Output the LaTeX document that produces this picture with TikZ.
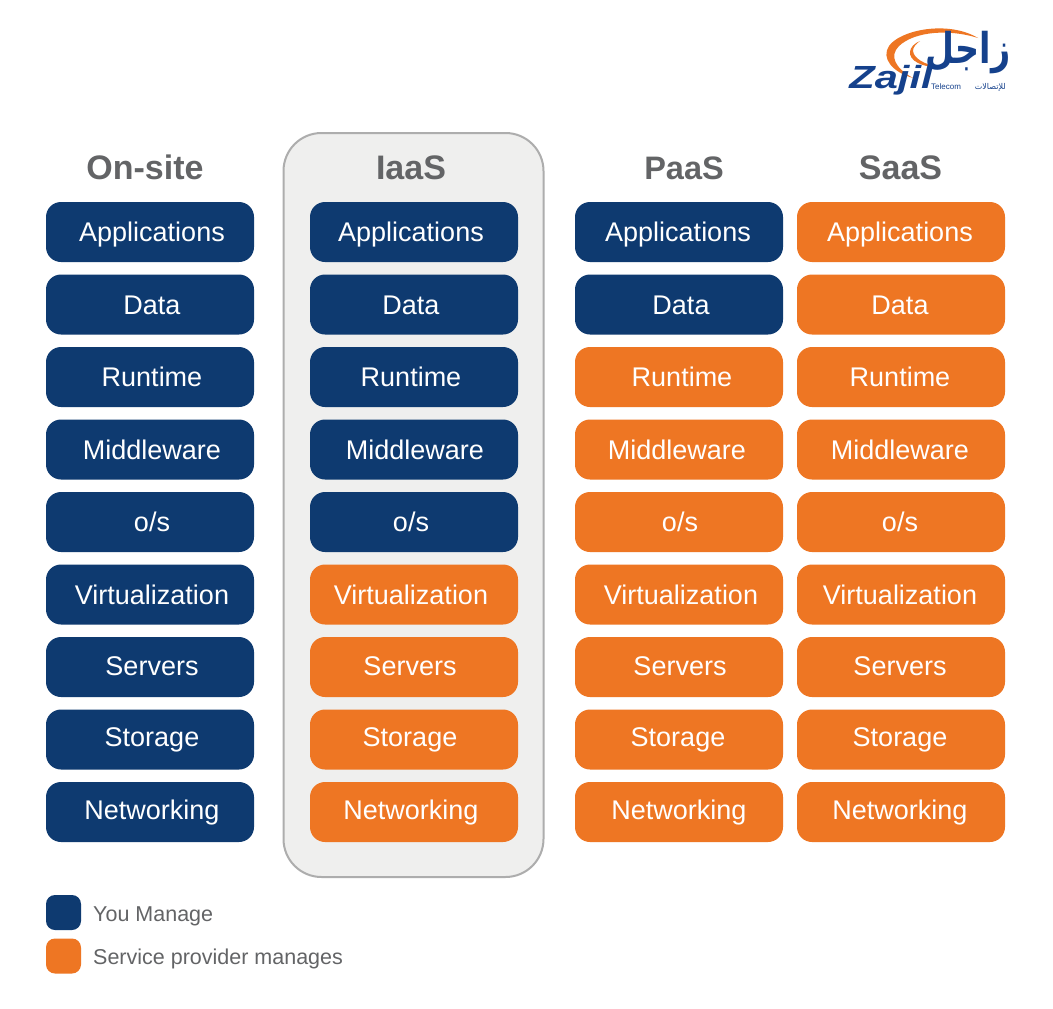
\documentclass[tikz,border=0pt]{standalone}
\usepackage{fontspec}
\setmainfont{Liberation Sans}
\newfontfamily\arabicfont[Script=Arabic]{DejaVu Sans}
\TeXXeTstate=1
\definecolor{navy}{HTML}{0E3A70}
\definecolor{tangerine}{HTML}{EE7623}
\definecolor{heading}{HTML}{636466}
\definecolor{panelfill}{HTML}{EFEFEE}
\definecolor{panelline}{HTML}{ADADAD}
\definecolor{logoblue}{HTML}{15418C}
\tikzset{
  x=1pt,y=-1pt,
  cell/.style={rounded corners=15pt,minimum width=208pt,minimum height=60pt,inner sep=0pt,text height=19.4pt,text depth=0pt,text=white,font=\fontsize{27}{30}\selectfont},
  you/.style={cell,fill=navy},
  prov/.style={cell,fill=tangerine},
  coltitle/.style={text=heading,font=\fontsize{34}{38}\selectfont\bfseries,inner sep=0pt,text height=24pt,text depth=0pt},
  swatch/.style={rounded corners=9pt,minimum width=35pt,minimum height=35pt,inner sep=0pt},
  legendtext/.style={anchor=west,text=heading,inner sep=0pt,font=\fontsize{21.5}{26}\selectfont,text height=15.5pt,text depth=0pt},
}
\begin{document}
\begin{tikzpicture}
\useasboundingbox (0,0) rectangle (1053,1009);
\fill[white] (0,0) rectangle (1053,1009);
% IaaS panel
\node[draw=panelline,line width=2pt,fill=panelfill,rounded corners=38pt,minimum width=260pt,minimum height=744pt,inner sep=0pt] (panel) at (413.5,505) {};
% headings
\node[coltitle] (t1) at (145,167) {On-site};
\node[coltitle] (t2) at (411,167) {IaaS};
\node[coltitle] (t3) at (684,167) {\fontsize{32.5}{38}\selectfont PaaS};
\node[coltitle] (t4) at (900.5,167) {SaaS};
% cells: col/x/you-rows/text shift per row (twice the offset in px)
\foreach \c/\x/\n/\shifts in {
  1/150/9/{4,4,4,4,4,4,4,4,4},
  2/414/5/{-6,-6,-6,2,-6,-6,-8,-8,-6},
  3/679/2/{-2,4,6,-4,2,4,2,-2,0},
  4/901/0/{-2,-2,-2,-2,-2,-2,-2,-2,-2}}{
  \foreach \t [count=\i] in {Applications,Data,Runtime,Middleware,o/s,Virtualization,Servers,Storage,Networking}{
    \pgfmathsetmacro{\yy}{232+72.5*(\i-1)}
    \pgfmathparse{{\shifts}[\i-1]}\let\d\pgfmathresult
    \pgfmathparse{{0,0,0,0,0,0,1,2.5,2}[\i-1]}\let\lift\pgfmathresult
    \ifnum\i>\n\relax
      \node[prov] (c\c r\i) at (\x,\yy) {\kern\d pt\raisebox{\lift pt}{\t}};
    \else
      \node[you] (c\c r\i) at (\x,\yy) {\kern\d pt\raisebox{\lift pt}{\t}};
    \fi
  }
}
% legend
\node[swatch,fill=navy] (s1) at (63.5,912.5) {};
\node[swatch,fill=tangerine] (s2) at (63.5,956) {};
\node[legendtext] (l1) at (93,913.5) {You Manage};
\node[legendtext] (l2) at (93,956.5) {Service provider manages};
% logo
\fill[tangerine] (913,78) .. controls (892,72) and (881,58) .. (889,46) .. controls (900,30) and (948,20) .. (978,38) .. controls (950,29) and (915,31) .. (899,46) .. controls (889,56) and (895,68) .. (913,78) -- cycle;
\fill[tangerine] (920,41) .. controls (908,46) and (906,57) .. (918,63) .. controls (924,66) and (930,67) .. (937,67) .. controls (925,64) and (914,59) .. (913,51) .. controls (913,47) and (916,44) .. (920,41) -- cycle;
\node[inner sep=0pt,text=logoblue,xscale=.98,yscale=1.25] (logoar) at (968,53) {\fontsize{34}{36}\selectfont\bfseries\arabicfont\beginR زاجل\endR};
\node[inner sep=0pt,text=logoblue,xscale=1.3] (logoen) at (891,80) {\fontsize{32}{33}\selectfont\bfseries\itshape Zajil};
\node[inner sep=0pt,text=logoblue,anchor=west] (logotel) at (931,87) {\fontsize{8}{9}\selectfont Telecom};
\node[inner sep=0pt,text=logoblue,anchor=east] (logoar2) at (1006,87) {\fontsize{8}{9}\selectfont\arabicfont\beginR للإتصالات\endR};
\end{tikzpicture}
\end{document}
